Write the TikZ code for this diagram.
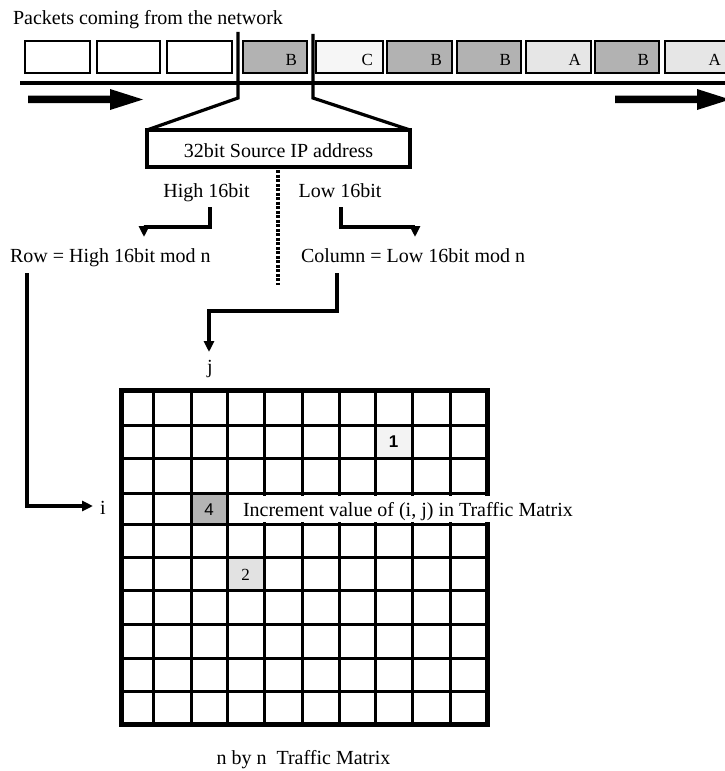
\documentclass[tikz,border=0pt]{standalone}
\usepackage{fontspec}
\setmainfont{Liberation Serif}
\newfontfamily\sansf{Liberation Sans}
\usetikzlibrary{arrows.meta}
\definecolor{pB}{RGB}{178,178,178}
\definecolor{pC}{RGB}{246,246,246}
\definecolor{pA}{RGB}{230,230,230}
\definecolor{cfour}{RGB}{180,180,180}
\definecolor{cone}{RGB}{243,243,243}
\definecolor{ctwo}{RGB}{226,226,226}
\begin{document}
\begin{tikzpicture}[x=1bp,y=-1bp,
  every node/.style={inner sep=0pt, outer sep=0pt},
  txt/.style={font=\fontsize{20bp}{24bp}\selectfont, anchor=base},
  pkt/.style={draw, line width=2.6bp, minimum height=32bp, anchor=north west},
  lbl/.style={font=\fontsize{17bp}{20bp}\selectfont, anchor=base east},
  conn/.style={line width=3.3bp, -{Triangle[width=10bp,length=11bp]}},
  split/.style={line width=3.2bp},
  gridline/.style={line width=3bp},
  numtxt/.style={font=\fontsize{17bp}{20bp}\selectfont, anchor=base},
  bigarrow/.style={fill=black}
]
\clip (0,0) rectangle (725,771);
\fill[white] (0,0) rectangle (725,771);

% title
\node[txt, anchor=base west] (title) at (13,25) {Packets coming from the network};

% packets
\foreach \a/\b/\f/\l [count=\k] in {25/90/white/,97/160/white/,167/232/white/,243/307/pB/B,316/383/pC/C,387/452/pB/B,457/521/pB/B,526/591/pA/A,595/659/pB/B,665/731/pA/A}{
  \node[pkt, fill=\f, minimum width={(\b-\a)*1bp}] (p\k) at (\a,41) {};
  \node[lbl] (l\k) at ([shift={(-10,9)}]p\k.east) {\l};
}

% line under packets
\coordinate (wl) at (20,83);
\coordinate (wr) at (735,83);
\draw[line width=3.8bp] (wl) -- (wr);

% big arrows
\fill[bigarrow] (28,95.5) -- (110,95.5) -- (110,89) -- (143,99.5) -- (110,110) -- (110,103) -- (28,103) -- cycle;
\fill[bigarrow] (615,95.5) -- (697,95.5) -- (697,89) -- (730,99.5) -- (697,110) -- (697,103) -- (615,103) -- cycle;

% IP box
\node[draw, line width=4bp, minimum width=263bp, minimum height=37bp,
      font=\fontsize{20bp}{24bp}\selectfont, text height=17bp, text depth=0pt] (ip) at (278.5,148.5) {32bit Source IP address};

% split lines
\coordinate (s1) at (238,32);
\coordinate (s2) at (313,34);
\draw[split] (s1) -- (238,98) -- (ip.north west);
\draw[split] (s2) -- (313,98) -- (ip.north east);

% dotted separator
\coordinate (d1) at (278,170);
\coordinate (d2) at (278,285);
\draw[line width=4bp, dash pattern=on 3bp off 1.5bp] (d1) -- (d2);

% labels
\node[txt] (hi) at (206.5,197) {High 16bit};
\node[txt] (lo) at (340,197) {Low 16bit};
\node[txt, anchor=base west] (row) at (10,262) {Row = High 16bit mod n};
\node[txt, anchor=base west] (col) at (301,262) {Column = Low 16bit mod n};
\node[txt] (j) at (210,373) {j};
\node[txt] (i) at (103,514) {i};

% connectors
\coordinate (h0) at (210,207);
\coordinate (h1) at (144,237);
\draw[conn] (h0) -- (210,227) -- (144,227) -- (h1);
\coordinate (l0) at (341,207);
\coordinate (l1) at (415,237);
\draw[conn] (l0) -- (341,227) -- (415,227) -- (l1);
\coordinate (r0) at (27,273);
\coordinate (r1) at (93,506);
\draw[conn] (r0) -- (27,506) -- (r1);
\coordinate (c0) at (337,273);
\coordinate (c1) at (209,352);
\draw[conn] (c0) -- (337,311) -- (209,311) -- (c1);

% matrix cells
\fill[cfour] (191,493) rectangle (227,524);
\fill[cone] (375,425) rectangle (412,458);
\fill[ctwo] (227,557) rectangle (264,590);
\foreach \x in {153,191,227,264,302,339,375,412,450}
  \draw[gridline] (\x,390) -- (\x,724);
\foreach \y in {425,458,493,524,557,590,624,658,691}
  \draw[gridline] (121,\y) -- (487,\y);
\draw[line width=5bp] (121,390) rectangle (487,724);

% increment label
\fill[white] (229,495.5) rectangle (590,521.5);
\node[txt, anchor=base west] (inc) at (243,516) {Increment value of (i, j) in Traffic Matrix};

% numbers
\node[numtxt, font=\sansf\fontsize{17bp}{20bp}\selectfont] (n4) at (209,515) {4};
\node[numtxt, font=\sansf\bfseries\fontsize{17bp}{20bp}\selectfont] (n1) at (393.5,447) {1};
\node[numtxt] (n2) at (245.5,580) {2};

% caption
\node[txt] (cap) at (303.5,764) {n by n\ \ Traffic Matrix};
\end{tikzpicture}
\end{document}
